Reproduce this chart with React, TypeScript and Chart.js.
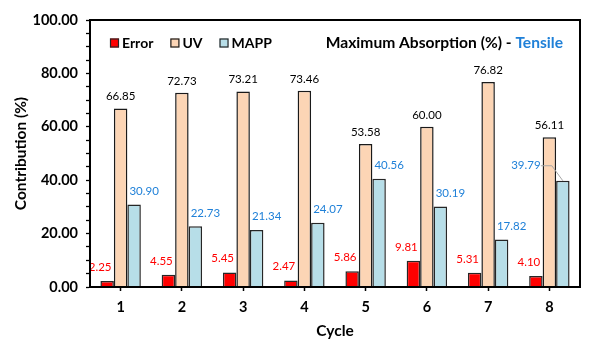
import React, { useEffect, useRef } from "react";
import { Chart, registerables } from "chart.js";

Chart.register(...registerables);

const categories = ["1", "2", "3", "4", "5", "6", "7", "8"];
const errorValues = [2.25, 4.55, 5.45, 2.47, 5.86, 9.81, 5.31, 4.1];
const uvValues = [66.85, 72.73, 73.21, 73.46, 53.58, 60.0, 76.82, 56.11];
const mappValues = [30.9, 22.73, 21.34, 24.07, 40.56, 30.19, 17.82, 39.79];
const seriesNames = ["Error", "UV", "MAPP"];
const titleMain = "Maximum Absorption (%) - ";
const titleAccent = "Tensile";
const yTitle = "Contribution (%)";
const xTitle = "Cycle";

const FONT = 'Lato, "DejaVu Sans", sans-serif';
const BLUE = "#1f80d8";

// label styles per dataset: color, dx, dy (offset from bar top)
const labelStyles = [
  { color: "#ff0000", dx: -7, dy: -14 },
  { color: "#000000", dx: 0, dy: -12 },
  { color: BLUE, dx: 10, dy: -13.5 },
];

const dataLabelPlugin = {
  id: "dataLabels",
  afterDatasetsDraw(chart: any) {
    const ctx = chart.ctx;
    ctx.save();
    ctx.font = `11.5px ${FONT}`;
    ctx.textAlign = "center";
    ctx.textBaseline = "middle";
    chart.data.datasets.forEach((ds: any, di: number) => {
      const meta = chart.getDatasetMeta(di);
      const st = labelStyles[di];
      meta.data.forEach((el: any, i: number) => {
        const v = ds.data[i] as number;
        const txt = v.toFixed(2);
        ctx.fillStyle = st.color;
        if (di === 2 && i === 7) {
          // label moved to the left with leader line
          const lx = el.x - 37;
          const ly = el.y - 15;
          ctx.fillText(txt, lx, ly);
          ctx.strokeStyle = "#a6a6a6";
          ctx.lineWidth = 1;
          ctx.beginPath();
          ctx.moveTo(lx + 15, ly);
          ctx.lineTo(lx + 26, ly);
          ctx.lineTo(el.x, el.y);
          ctx.stroke();
        } else {
          ctx.fillText(txt, el.x + st.dx, el.y + st.dy);
        }
      });
    });
    ctx.restore();
  },
};

const frameLegendTitlePlugin = {
  id: "frameLegendTitle",
  afterDraw(chart: any) {
    const ctx = chart.ctx;
    const a = chart.chartArea;
    ctx.save();
    // frame
    ctx.strokeStyle = "#000";
    ctx.lineWidth = 2;
    ctx.strokeRect(a.left, a.top, a.right - a.left, a.bottom - a.top);

    // legend
    const cy = a.top + 23;
    let x = a.left + 20;
    ctx.font = `bold 14px ${FONT}`;
    ctx.textBaseline = "middle";
    ctx.textAlign = "left";
    chart.data.datasets.forEach((ds: any) => {
      ctx.fillStyle = ds.backgroundColor;
      ctx.fillRect(x, cy - 4.5, 9, 9);
      ctx.strokeStyle = ds.borderColor;
      ctx.lineWidth = 1.2;
      ctx.strokeRect(x + 0.5, cy - 4, 8, 8);
      x += 12;
      ctx.fillStyle = "#000";
      ctx.fillText(ds.label, x, cy + 0.5);
      x += ctx.measureText(ds.label).width + 17;
    });

    // title
    ctx.font = `bold 15.6px ${FONT}`;
    const wAcc = ctx.measureText(titleAccent).width;
    const wMain = ctx.measureText(titleMain).width;
    const right = a.right - 17;
    ctx.fillStyle = BLUE;
    ctx.fillText(titleAccent, right - wAcc, cy);
    ctx.fillStyle = "#000";
    ctx.fillText(titleMain, right - wAcc - wMain, cy);
    ctx.restore();
  },
};

export default function App() {
  const ref = useRef<HTMLCanvasElement>(null);
  useEffect(() => {
    if (!ref.current) return;
    const chart = new Chart(ref.current, {
      type: "bar",
      data: {
        labels: categories,
        datasets: [
          {
            label: seriesNames[0],
            data: errorValues,
            backgroundColor: "#ff0000",
            borderColor: "#262626",
            borderWidth: 1.5,
          },
          {
            label: seriesNames[1],
            data: uvValues,
            backgroundColor: "#fcd5b5",
            borderColor: "#1a1a1a",
            borderWidth: 1.5,
          },
          {
            label: seriesNames[2],
            data: mappValues,
            backgroundColor: "#b7dee8",
            borderColor: "#262626",
            borderWidth: 1.5,
          },
        ],
      },
      options: {
        responsive: false,
        animation: false,
        devicePixelRatio: 1,
        layout: { padding: { top: 20, right: 24, left: 0, bottom: 0 } },
        datasets: {
          bar: { categoryPercentage: 0.66, barPercentage: 1.0 },
        },
        plugins: {
          legend: { display: false },
          tooltip: { enabled: false },
          title: { display: false },
        },
        scales: {
          x: {
            offset: true,
            grid: {
              offset: false,
              drawOnChartArea: false,
              drawTicks: true,
              tickLength: 4,
              tickColor: "#000",
              tickWidth: 1.5,
            },
            border: { display: true, color: "#000", width: 2 },
            ticks: {
              color: "#000",
              font: { family: FONT, size: 14.5, weight: "bold" },
              padding: 8,
            },
            title: {
              display: true,
              text: xTitle,
              color: "#000",
              font: { family: FONT, size: 15.5, weight: "bold" },
              padding: { top: 0, bottom: 8 },
            },
            afterFit: (s: any) => {
              s.height = 61;
            },
          },
          y: {
            min: 0,
            max: 100,
            grid: {
              drawOnChartArea: false,
              drawTicks: true,
              tickLength: 4,
              tickColor: "#000",
              tickWidth: 1.3,
            },
            border: { display: true, color: "#000", width: 2 },
            ticks: {
              stepSize: 5,
              autoSkip: false,
              color: "#000",
              font: { family: FONT, size: 14.5, weight: "bold" },
              padding: 8,
              callback: (v: any) => (Number(v) % 20 === 0 ? Number(v).toFixed(2) : ""),
            },
            title: {
              display: true,
              text: yTitle,
              color: "#000",
              font: { family: FONT, size: 15.5, weight: "bold" },
              padding: { top: 12, bottom: 0 },
            },
            afterFit: (s: any) => {
              s.width = 90;
            },
          },
        },
      },
      plugins: [dataLabelPlugin, frameLegendTitlePlugin],
    });
    return () => chart.destroy();
  }, []);
  return (
    <div style={{ position: "fixed", left: 0, top: 0, width: 604, height: 348, background: "#fff" }}>
      <canvas ref={ref} width={604} height={348} />
    </div>
  );
}
